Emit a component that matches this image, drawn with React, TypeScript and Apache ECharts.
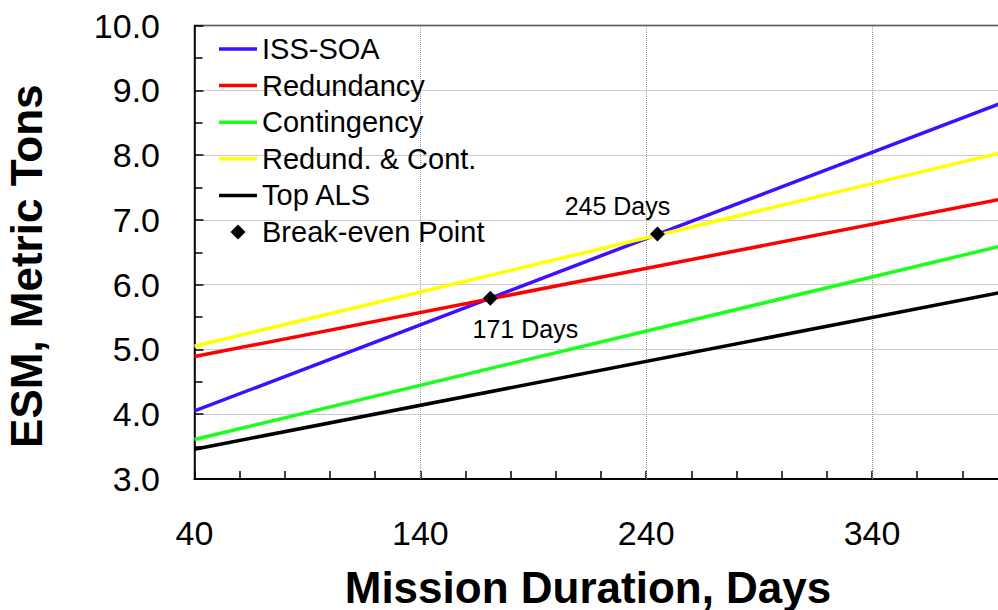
import React, { useEffect, useRef } from "react";
import * as echarts from "echarts";

const days = [40, 400];
const issSoa = [4.05, 8.84];
const redundancy = [4.89, 7.34];
const contingency = [3.61, 6.62];
const redundCont = [5.05, 8.06];
const topAls = [3.46, 5.9];
const breakEvenDays = [171, 245];
const breakEvenEsm = [5.79, 6.78];
const xTickLabels = [40, 140, 240, 340];
const lineNames = ["ISS-SOA", "Redundancy", "Contingency", "Redund. & Cont.", "Top ALS"];
const pointName = "Break-even Point";

const FONT = "'Liberation Sans', Arial, Helvetica, sans-serif";
const lineColors = ["#3f10ff", "#ff0000", "#1aff1a", "#ffff00", "#000000"];

export default function App() {
  const ref = useRef<HTMLDivElement>(null);
  useEffect(() => {
    if (!ref.current) return;
    const chart = echarts.init(ref.current, undefined, { renderer: "svg" });
    const lineData = [issSoa, redundancy, contingency, redundCont, topAls];
    const lineSeries = lineNames.map((name, i) => ({
      name,
      type: "line",
      data: days.map((d, j) => [d, lineData[i][j]]),
      symbol: "none",
      lineStyle: { color: lineColors[i], width: 3.5 },
      itemStyle: { color: lineColors[i] },
      z: 3,
    }));
    const labelCfg = [
      { position: "bottom", distance: 11, offset: [35, 0] },
      { position: "top", distance: 8, offset: [-40, 0] },
    ];
    const lineIcon = "path://M0,0H38V3.5H0Z";
    const diamondIcon = "path://M7,0L14,7L7,14L0,7Z";
    chart.setOption({
      animation: false,
      textStyle: { fontFamily: FONT },
      grid: {
        left: 194.5,
        width: 813,
        top: 25.5,
        bottom: 131,
        outerBoundsMode: "none",
        containLabel: false,
        show: true,
        borderColor: "#222",
        borderWidth: 1.5,
        backgroundColor: "transparent",
      },
      legend: {
        left: 219,
        top: 34,
        padding: 0,
        orient: "vertical",
        itemWidth: 38,
        itemHeight: 15,
        itemGap: 6.6,
        itemTextGap: 0,
        symbolKeepAspect: true,
        itemStyle: { borderWidth: 0 },
        textStyle: { fontSize: 29, color: "#000", fontFamily: FONT, lineHeight: 30 },
        data: [
          ...lineNames.map((n) => ({ name: n, icon: lineIcon })),
          { name: pointName, icon: diamondIcon },
        ],
      },
      xAxis: {
        type: "value",
        min: 40,
        max: 400,
        interval: 20,
        name: "Mission Duration, Days",
        nameLocation: "middle",
        nameGap: 86,
        nameTextStyle: { fontSize: 44, fontWeight: "bold", color: "#000", fontFamily: FONT, padding: [0, 26, 0, 0] },
        axisLine: { show: true, onZero: false, lineStyle: { color: "#000", width: 2 } },
        axisTick: { show: true, inside: true, length: 8, lineStyle: { color: "#000", width: 1.5 } },
        axisLabel: {
          margin: 37,
          fontSize: 34,
          color: "#000",
          fontFamily: FONT,
          formatter: (v: number) => (xTickLabels.includes(v) ? String(v) : ""),
        },
        splitLine: { show: false },
      },
      yAxis: {
        type: "value",
        min: 3,
        max: 10,
        interval: 1,
        name: "ESM, Metric Tons",
        nameLocation: "middle",
        nameGap: 146,
        nameRotate: 90,
        nameTextStyle: { fontSize: 44, fontWeight: "bold", color: "#000", fontFamily: FONT, padding: [0, 28, 0, 0] },
        axisLine: { show: true, onZero: false, lineStyle: { color: "#000", width: 1.5 } },
        axisTick: { show: true, inside: true, length: 9, lineStyle: { color: "#000", width: 1.5 } },
        minorTick: { show: true, splitNumber: 2, length: 8, lineStyle: { color: "#000", width: 1.5 } },
        axisLabel: {
          margin: 34.5,
          fontSize: 34,
          color: "#000",
          fontFamily: FONT,
          formatter: (v: number) => v.toFixed(1),
        },
        splitLine: { show: true, lineStyle: { color: "#999", type: "dotted", width: 1 } },
      },
      series: [
        {
          name: "grid-x",
          type: "line",
          data: [],
          silent: true,
          z: 1,
          markLine: {
            silent: true,
            z: 1,
            symbol: "none",
            label: { show: false },
            lineStyle: { color: "#999", type: "dotted", width: 1 },
            emphasis: { disabled: true },
            data: xTickLabels.slice(1).map((v) => ({ xAxis: v })),
          },
        },
        ...lineSeries,
        {
          name: pointName,
          type: "scatter",
          symbol: "diamond",
          symbolSize: 15,
          itemStyle: { color: "#000", opacity: 1 },
          z: 5,
          data: breakEvenDays.map((d, i) => ({
            value: [d, breakEvenEsm[i]],
            label: {
              show: true,
              ...labelCfg[i],
              fontSize: 25,
              color: "#000",
              opacity: 1,
              fontFamily: FONT,
              formatter: (p: any) => `${p.value[0]} Days`,
            },
          })),
        },
      ],
    });
    return () => chart.dispose();
  }, []);
  return (
    <div
      ref={ref}
      style={{ position: "absolute", left: 0, top: 0, width: 998, height: 610, background: "#fff" }}
    />
  );
}
